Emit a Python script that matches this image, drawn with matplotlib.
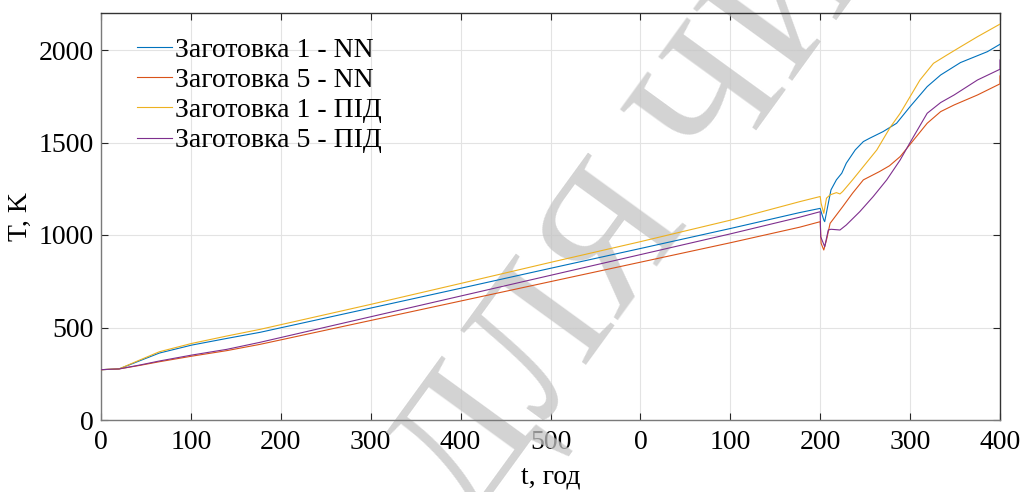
import matplotlib.pyplot as plt

# час, хв (вісь x йде суцільно, підписи - окремо)
xTicks = [0, 100, 200, 300, 400, 500, 600, 700, 800, 900, 1000]
xTickLabels = ['0', '100', '200', '300', '400', '500', '0', '100', '200', '300', '400']
yTicks = [0, 500, 1000, 1500, 2000]

# Заготовка 1 - NN
t1nn = [0, 20, 43, 65, 101, 140, 177, 300, 400, 500, 600, 700, 777, 800, 801, 804, 805, 809, 812, 818,
        824, 829, 839, 848, 855, 870, 885, 900, 919, 934, 956, 986, 1000]
T1nn = [272, 276, 320, 362, 405, 441, 474, 605, 712, 820, 927, 1035, 1121, 1144, 1126, 1081, 1072, 1171, 1244, 1298,
        1334, 1388, 1460, 1505, 1523, 1559, 1604, 1694, 1802, 1865, 1932, 1991, 2031]

# Заготовка 5 - NN
t5nn = [0, 20, 43, 65, 101, 140, 177, 300, 400, 500, 600, 700, 777, 800, 801, 804, 807, 811, 818, 825,
        836, 848, 866, 877, 889, 904, 919, 934, 949, 975, 1000, 1000]
T5nn = [272, 276, 295, 315, 345, 375, 409, 538, 643, 748, 853, 958, 1042, 1072, 955, 919, 973, 1063, 1108, 1153,
        1226, 1298, 1343, 1374, 1424, 1514, 1604, 1667, 1703, 1757, 1817, 1860]

# Заготовка 1 - ПІД
t1pid = [0, 20, 43, 65, 101, 140, 177, 300, 400, 500, 600, 700, 777, 800, 801, 804, 807, 811, 818, 822,
         825, 836, 851, 863, 878, 889, 900, 911, 926, 941, 956, 975, 1000]
T1pid = [272, 276, 324, 369, 414, 454, 490, 625, 738, 852, 964, 1080, 1180, 1208, 1171, 1117, 1199, 1217, 1229, 1222,
         1235, 1298, 1388, 1460, 1583, 1658, 1748, 1838, 1928, 1973, 2017, 2072, 2140]

# Заготовка 5 - ПІД
t5pid = [0, 20, 43, 65, 101, 140, 177, 300, 400, 500, 600, 700, 777, 800, 800.5, 802, 805, 809, 812, 822,
         829, 844, 859, 874, 889, 900, 919, 934, 949, 975, 1000, 1000]
T5pid = [272, 276, 297, 319, 351, 382, 420, 558, 670, 782, 894, 1006, 1096, 1126, 991, 973, 937, 1027, 1031, 1027,
         1054, 1126, 1208, 1298, 1406, 1500, 1658, 1716, 1757, 1838, 1896, 1946]

plt.rcParams['font.family'] = ['Liberation Serif', 'DejaVu Serif']
plt.rcParams['font.size'] = 20

fig = plt.figure(figsize=(10.22, 4.92), dpi=100)
ax = fig.add_axes([101/1022, 72/492, 899/1022, 407/492])

lw = 0.8
ax.plot(t1nn, T1nn, color='#0072BD', lw=lw, label='Заготовка 1 - NN', zorder=3)
ax.plot(t5nn, T5nn, color='#D95319', lw=lw, label='Заготовка 5 - NN', zorder=3)
ax.plot(t1pid, T1pid, color='#EDB120', lw=lw, label='Заготовка 1 - ПІД', zorder=3)
ax.plot(t5pid, T5pid, color='#7E2F8E', lw=lw, label='Заготовка 5 - ПІД', zorder=3)

ax.set_xlim(0, 1000)
ax.set_ylim(0, 2200)
ax.set_xticks(xTicks)
ax.set_xticklabels(xTickLabels)
ax.set_yticks(yTicks)
ax.grid(True, color='#e3e3e3', lw=0.8)
ax.set_axisbelow(True)
ax.tick_params(direction='in', length=5, width=0.8, color='#262626', top=True, right=True, pad=5)
ax.tick_params(axis='x', pad=7)
for side in ['left', 'bottom']:
    ax.spines[side].set_color('#7a7a7a')
for side in ['top', 'right']:
    ax.spines[side].set_color('#333333')
for s in ax.spines.values():
    s.set_linewidth(1.0)

ax.set_xlabel('t, год', labelpad=7)
ax.set_ylabel('T, K', labelpad=4)

ax.legend(loc='upper left', bbox_to_anchor=(0.04, 0.94), frameon=False, borderpad=0,
          handlelength=1.26, handletextpad=0.12, labelspacing=0.17, borderaxespad=0)

# водяний знак
ax.text(470/1022, 1 - 525/492, 'ДЛЯ ЧИТАННЯ', transform=fig.transFigure, fontsize=134,
        color='#c4c4c4', alpha=0.75, rotation=54, rotation_mode='anchor', ha='left', va='baseline',
        zorder=2, clip_on=False)

plt.savefig('out.png', dpi=100)
